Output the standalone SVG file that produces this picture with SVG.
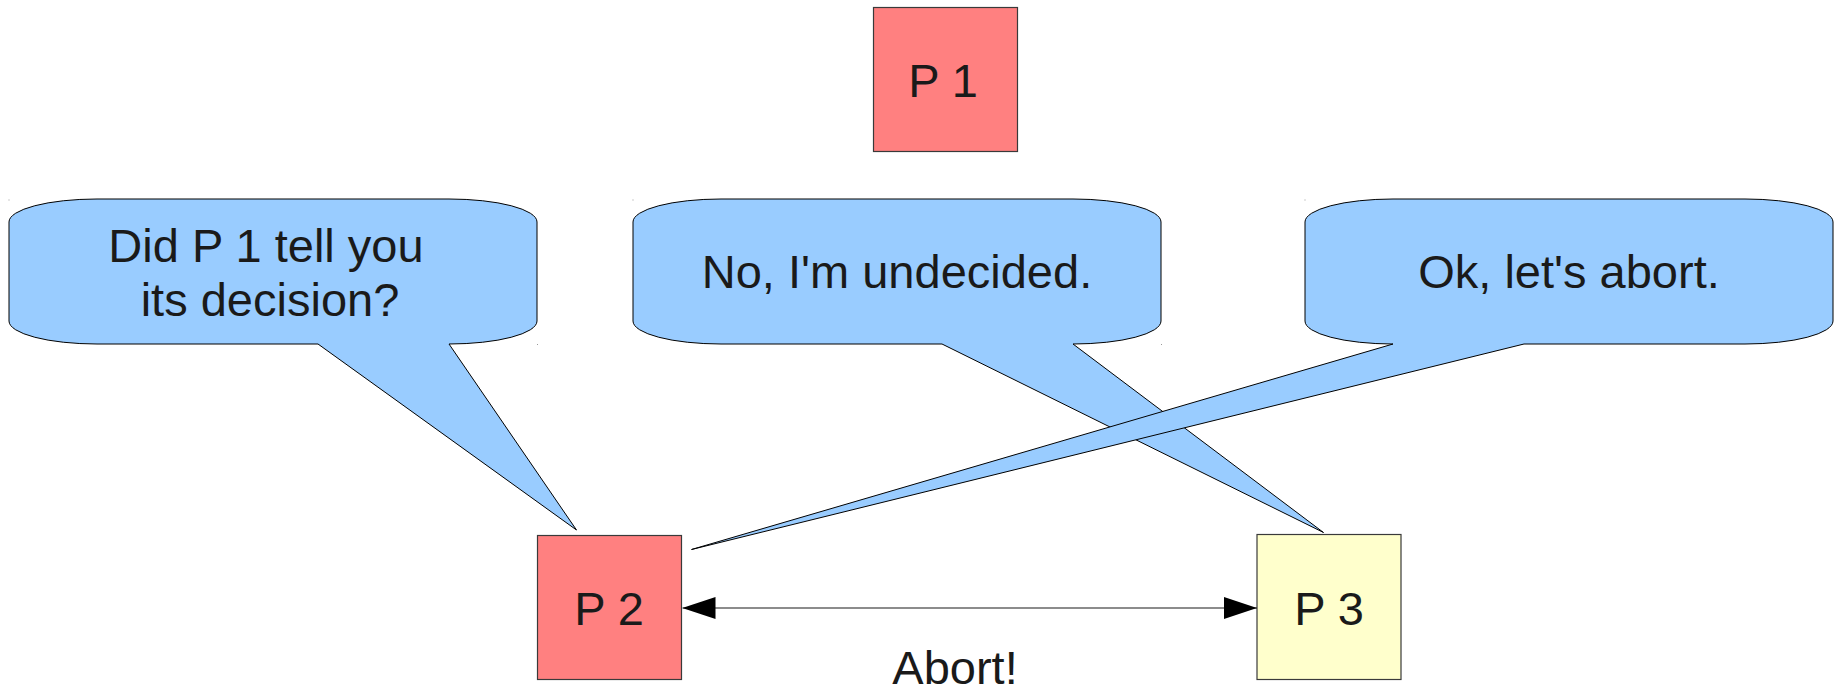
<svg xmlns="http://www.w3.org/2000/svg" width="1834" height="691" viewBox="0 0 1834 691">
<style>
.bg{fill:#ffffff}
.bubble{fill:#99ccff;stroke:#000000;stroke-width:1;stroke-linejoin:miter}
.box{stroke:#3a3a3a;stroke-width:1.2}
.red{fill:#ff8080}
.yellow{fill:#ffffcc}
.t{font-family:"Liberation Sans",Arial,sans-serif;font-size:47px;fill:#1a1a1a;text-anchor:middle}
.dot{fill:#9a9a9a}
.conn{stroke:#1a1a1a;stroke-width:1.2;fill:none}
</style>
<defs>
<marker id="ah" viewBox="0 0 33 22" refX="33" refY="11" markerWidth="33" markerHeight="22" markerUnits="userSpaceOnUse" orient="auto-start-reverse">
<path d="M0,0 L33,11 L0,22 Z" fill="#000000"/>
</marker>
</defs>
<rect class="bg" x="0" y="0" width="1834" height="691"/>
<g id="bubble1">
<path class="bubble" d="M97,199 H449 A88 23 0 0 1 537 222 V321 A88 23 0 0 1 449 344 L576.5,530 L318,344 H97 A88 23 0 0 1 9 321 V222 A88 23 0 0 1 97 199 Z"/>
<rect class="dot" x="8.5" y="199.5" width="1" height="1"/>
<rect class="dot" x="537" y="344" width="1" height="1"/>
<text class="t"><tspan x="266" y="262">Did P 1 tell you</tspan><tspan x="270" y="316">its decision?</tspan></text>
</g>
<g id="bubble2">
<path class="bubble" d="M721,199 H1073 A88 23 0 0 1 1161 222 V321 A88 23 0 0 1 1073 344 L1323.5,532.5 L942,344 H721 A88 23 0 0 1 633 321 V222 A88 23 0 0 1 721 199 Z"/>
<rect class="dot" x="632.5" y="199.5" width="1" height="1"/>
<rect class="dot" x="1161" y="344" width="1" height="1"/>
<text class="t" x="897" y="288">No, I'm undecided.</text>
</g>
<g id="bubble3">
<path class="bubble" d="M1393,199 H1745 A88 23 0 0 1 1833 222 V321 A88 23 0 0 1 1745 344 H1524 L691.5,549.5 L1393,344 A88 23 0 0 1 1305 321 V222 A88 23 0 0 1 1393 199 Z"/>
<rect class="dot" x="1304.5" y="199.5" width="1" height="1"/>
<text class="t" x="1569" y="288">Ok, let's abort.</text>
</g>
<g id="p1">
<rect class="box red" x="873.5" y="7.5" width="144" height="144"/>
<text class="t" x="943" y="97">P 1</text>
</g>
<g id="p2">
<rect class="box red" x="537.5" y="535.5" width="144" height="144"/>
<text class="t" x="609" y="625">P 2</text>
</g>
<g id="p3">
<rect class="box yellow" x="1257" y="534.5" width="144" height="145"/>
<text class="t" x="1329" y="625">P 3</text>
</g>
<g id="connectors">
<line class="conn" x1="682.5" y1="608" x2="1257" y2="608" marker-start="url(#ah)" marker-end="url(#ah)"/>
<text class="t" x="955" y="684">Abort!</text>
</g>
</svg>
